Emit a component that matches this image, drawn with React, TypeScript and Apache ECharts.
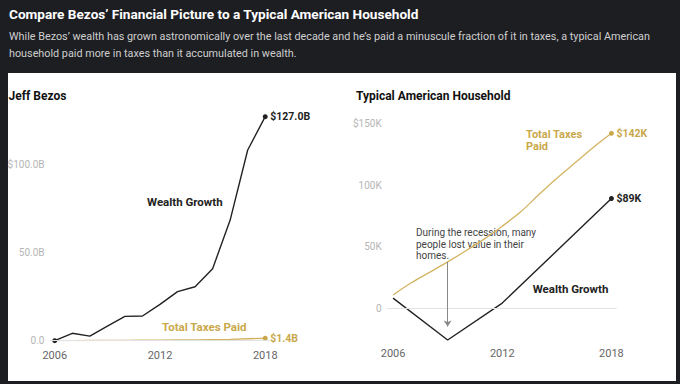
import React, { useEffect, useRef } from "react";
import * as echarts from "echarts";

// ---- data ----
const bezosYears = [2006, 2007, 2008, 2009, 2010, 2011, 2012, 2013, 2014, 2015, 2016, 2017, 2018];
const bezosWealth = [0, 4.2, 2.6, 8.3, 13.8, 14.0, 20.6, 27.8, 30.6, 40.8, 68.4, 108.1, 127.0];
const bezosTaxes = [0, 0.05, 0.1, 0.15, 0.2, 0.25, 0.3, 0.4, 0.5, 0.65, 0.8, 1.1, 1.4];

const householdYears = [2006, 2007, 2008, 2009, 2010, 2011, 2012, 2013, 2014, 2015, 2016, 2017, 2018];
const householdTaxes = [10.6, 20.5, 29, 37.5, 46.5, 56, 66.5, 78, 92, 105.5, 118, 130.5, 142];
const householdWealthYears = [2006, 2009, 2012, 2018];
const householdWealth = [8, -26, 4, 89];

const xTickYears = [2006, 2012, 2018];
const bezosYTicks = [0, 50, 100];
const householdYTicks = [0, 50, 100, 150];

const FONT = "Roboto";
const BLACK = "#222222";
const GOLD = "#c9a84c";
const GOLD_LINE = "#d2b460";

function pts(xs: number[], ys: number[], marks: number[], size: number) {
  return xs.map((x, i) => ({
    value: [x, ys[i]],
    symbol: marks.indexOf(i) >= 0 ? "circle" : "none",
    symbolSize: size,
  }));
}

export default function App() {
  const ref = useRef<HTMLDivElement>(null);
  useEffect(() => {
    document.body.style.margin = "0";
    const chart = echarts.init(ref.current!, null, { renderer: "svg" });
    const lastB = bezosYears.length - 1;
    const lastH = householdYears.length - 1;
    const yearFmt = (v: number) => String(Math.round(v));
    const option: any = {
      animation: false,
      backgroundColor: "#1d1e22",
      textStyle: { fontFamily: FONT },
      grid: [
        { left: 49.5, right: 409.5, top: 111.4, bottom: 43.3 },
        { left: 386.7, right: 63.3, top: 123.5, bottom: 39.1 },
      ],
      xAxis: [
        {
          type: "value", gridIndex: 0, min: 2005.7, max: 2018.3,
          axisLine: { show: false }, axisTick: { show: false }, splitLine: { show: false },
          axisLabel: { customValues: xTickYears, formatter: yearFmt, color: "#666", fontSize: 11, margin: 9, fontFamily: FONT },
        },
        {
          type: "value", gridIndex: 1, min: 2005.65, max: 2018.29,
          axisLine: { show: false }, axisTick: { show: false }, splitLine: { show: false },
          axisLabel: { customValues: xTickYears, formatter: yearFmt, color: "#666", fontSize: 11, margin: 3, fontFamily: FONT },
        },
      ],
      yAxis: [
        {
          type: "value", gridIndex: 0, min: 0, max: 130,
          axisLine: { show: false }, axisTick: { show: false }, splitLine: { show: false },
          axisLabel: {
            customValues: bezosYTicks, color: "#b5b5b5", fontSize: 10, margin: 5, fontFamily: FONT,
            formatter: (v: number) => (v === 0 ? "0.0" : (v === 100 ? "$" : "") + v.toFixed(1) + "B"),
          },
        },
        {
          type: "value", gridIndex: 1, min: -30, max: 150,
          axisLine: { show: false }, axisTick: { show: false }, splitLine: { show: false },
          axisLabel: {
            customValues: householdYTicks, color: "#b5b5b5", fontSize: 10, margin: 5, fontFamily: FONT,
            formatter: (v: number) => (v === 0 ? "0" : (v === 150 ? "$" : "") + v + "K"),
          },
        },
      ],
      series: [
        {
          type: "line", xAxisIndex: 0, yAxisIndex: 0, z: 2,
          data: pts(bezosYears, bezosTaxes, [lastB], 5),
          showSymbol: true,
          lineStyle: { color: GOLD_LINE, width: 1.3 },
          itemStyle: { color: GOLD },
          endLabel: {
            show: true, color: GOLD, fontWeight: "bold", fontSize: 10.5, distance: 5, fontFamily: FONT,
            formatter: (p: any) => "$" + p.value[1].toFixed(1) + "B",
          },
          markLine: {
            silent: true, symbol: "none", label: { show: false },
            lineStyle: { color: "#e2e2e2", width: 1, type: "solid" },
            data: [{ yAxis: 0 }],
          },
        },
        {
          type: "line", xAxisIndex: 0, yAxisIndex: 0, z: 3,
          data: pts(bezosYears, bezosWealth, [0, lastB], 5),
          showSymbol: true,
          lineStyle: { color: BLACK, width: 1.4 },
          itemStyle: { color: BLACK },
          endLabel: {
            show: true, color: BLACK, fontWeight: "bold", fontSize: 10.5, distance: 5, fontFamily: FONT,
            formatter: (p: any) => "$" + p.value[1].toFixed(1) + "B",
          },
        },
        {
          type: "line", xAxisIndex: 1, yAxisIndex: 1, z: 2,
          data: pts(householdYears, householdTaxes, [lastH], 5),
          showSymbol: true, smooth: 0.3,
          lineStyle: { color: GOLD_LINE, width: 1.3 },
          itemStyle: { color: GOLD },
          endLabel: {
            show: true, color: GOLD, fontWeight: "bold", fontSize: 10.5, distance: 5, fontFamily: FONT,
            formatter: (p: any) => "$" + p.value[1] + "K",
          },
          markLine: {
            silent: true, symbol: "none", label: { show: false },
            lineStyle: { color: "#e2e2e2", width: 1, type: "solid" },
            data: [{ yAxis: 0 }],
          },
        },
        {
          type: "line", xAxisIndex: 1, yAxisIndex: 1, z: 3,
          data: pts(householdWealthYears, householdWealth, [householdWealthYears.length - 1], 5),
          showSymbol: true,
          lineStyle: { color: BLACK, width: 1.4 },
          itemStyle: { color: BLACK },
          endLabel: {
            show: true, color: BLACK, fontWeight: "bold", fontSize: 10.5, distance: 5, fontFamily: FONT,
            formatter: (p: any) => "$" + p.value[1] + "K",
          },
          markLine: {
            silent: true, label: { show: false }, symbol: ["none", "arrow"], symbolSize: 6,
            lineStyle: { color: "#888", width: 1, type: "solid" },
            data: [[{ coord: [2009, 37.5] }, { coord: [2009, -15] }]],
          },
        },
      ],
      graphic: [
        { type: "rect", z: -10, shape: { x: 8, y: 73, width: 668, height: 308 }, style: { fill: "#ffffff" } },
        {
          type: "text", x: 9, y: 14,
          style: { text: "Compare Bezos\u2019 Financial Picture to a Typical American Household", fill: "#ffffff", font: "bold 13.6px Roboto", verticalAlign: "middle" },
        },
        {
          type: "text", x: 9, y: 36,
          style: { text: "While Bezos\u2019 wealth has grown astronomically over the last decade and he\u2019s paid a minuscule fraction of it in taxes, a typical American", fill: "#cfcfcf", font: "10.8px Roboto", verticalAlign: "middle" },
        },
        {
          type: "text", x: 9, y: 53,
          style: { text: "household paid more in taxes than it accumulated in wealth.", fill: "#cfcfcf", font: "10.8px Roboto", verticalAlign: "middle" },
        },
        { type: "text", x: 8.5, y: 96, style: { text: "Jeff Bezos", fill: "#111", font: "bold 12px Roboto", verticalAlign: "middle" } },
        { type: "text", x: 356, y: 95.5, style: { text: "Typical American Household", fill: "#111", font: "bold 12px Roboto", verticalAlign: "middle" } },
        { type: "text", x: 147, y: 201.7, style: { text: "Wealth Growth", fill: BLACK, font: "bold 11.5px Roboto", verticalAlign: "middle" } },
        { type: "text", x: 162, y: 327, style: { text: "Total Taxes Paid", fill: GOLD, font: "bold 11.5px Roboto", verticalAlign: "middle" } },
        {
          type: "text", x: 526, y: 128,
          style: { text: "Total Taxes\nPaid", fill: GOLD, font: "bold 11px Roboto", lineHeight: 12.5, verticalAlign: "top" },
        },
        { type: "text", x: 532.7, y: 289, style: { text: "Wealth Growth", fill: BLACK, font: "bold 11.5px Roboto", verticalAlign: "middle" } },
        {
          type: "text", x: 416, y: 226.5,
          style: { text: "During the recession, many\npeople lost value in their\nhomes.", fill: "#444", font: "10px Roboto", lineHeight: 11.7, verticalAlign: "top" },
        },
      ],
    };
    chart.setOption(option);
    return () => chart.dispose();
  }, []);
  return <div ref={ref} style={{ position: "absolute", left: 0, top: 0, width: 680, height: 384 }} />;
}
